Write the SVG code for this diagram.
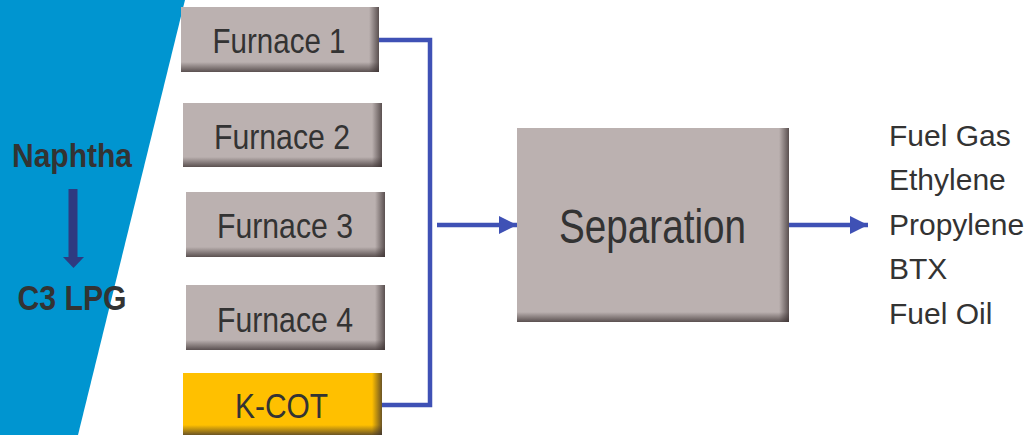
<svg xmlns="http://www.w3.org/2000/svg" width="1029" height="435" viewBox="0 0 1029 435">
<style>
.box{fill:#bbb1b0}
.kcot{fill:#ffc000}
.lbl{font-family:"Liberation Sans",Arial,sans-serif;fill:#333333;text-anchor:middle}
.feed{font-family:"Liberation Sans",Arial,sans-serif;font-weight:bold;fill:#333333;text-anchor:middle}
.out{font-family:"Liberation Sans",Arial,sans-serif;fill:#333333;font-size:30px}
.conn{fill:none;stroke:#3f51b5;stroke-width:4.5}
</style>
<defs>
<linearGradient id="shR" x1="0" y1="0" x2="1" y2="0">
<stop offset="0" stop-color="#3a3030" stop-opacity="0"/>
<stop offset="1" stop-color="#3a3030" stop-opacity="0.75"/>
</linearGradient>
<linearGradient id="shB" x1="0" y1="0" x2="0" y2="1">
<stop offset="0" stop-color="#3a3030" stop-opacity="0"/>
<stop offset="1" stop-color="#3a3030" stop-opacity="0.75"/>
</linearGradient>
<marker id="ah" markerUnits="userSpaceOnUse" markerWidth="18" markerHeight="18" viewBox="0 0 18 18" refX="18" refY="9" orient="auto">
<path d="M0,0 L18,9 L0,18 Z" fill="#3f51b5"/>
</marker>
</defs>
<polygon points="0,0 185,0 78,435 0,435" fill="#0095d0"/>
<g id="feed">
<text class="feed" x="72" y="167" font-size="34" textLength="120" lengthAdjust="spacingAndGlyphs">Naphtha</text>
<rect x="68.5" y="189" width="9" height="69" fill="#2e3a80"/>
<polygon points="63,257 84,257 73.5,268" fill="#2e3a80"/>
<text class="feed" x="72" y="310" font-size="35" textLength="109" lengthAdjust="spacingAndGlyphs">C3 LPG</text>
</g>
<g id="furnace1">
<rect class="box" x="181" y="7" width="198" height="65"/>
<rect x="369" y="7" width="10" height="65" fill="url(#shR)"/>
<rect x="181" y="62" width="198" height="10" fill="url(#shB)"/>
<text class="lbl" x="279" y="53" font-size="35" textLength="133" lengthAdjust="spacingAndGlyphs">Furnace 1</text>
</g>
<g id="furnace2">
<rect class="box" x="183" y="103" width="199" height="64"/>
<rect x="372" y="103" width="10" height="64" fill="url(#shR)"/>
<rect x="183" y="157" width="199" height="10" fill="url(#shB)"/>
<text class="lbl" x="282" y="149" font-size="35" textLength="136" lengthAdjust="spacingAndGlyphs">Furnace 2</text>
</g>
<g id="furnace3">
<rect class="box" x="186" y="192" width="199" height="65"/>
<rect x="375" y="192" width="10" height="65" fill="url(#shR)"/>
<rect x="186" y="247" width="199" height="10" fill="url(#shB)"/>
<text class="lbl" x="285" y="238" font-size="35" textLength="136" lengthAdjust="spacingAndGlyphs">Furnace 3</text>
</g>
<g id="furnace4">
<rect class="box" x="186" y="285" width="199" height="65"/>
<rect x="375" y="285" width="10" height="65" fill="url(#shR)"/>
<rect x="186" y="340" width="199" height="10" fill="url(#shB)"/>
<text class="lbl" x="285" y="332" font-size="35" textLength="136" lengthAdjust="spacingAndGlyphs">Furnace 4</text>
</g>
<g id="kcot">
<rect class="kcot" x="183" y="373" width="199" height="62"/>
<rect x="372" y="373" width="10" height="62" fill="url(#shR)"/>
<rect x="183" y="425" width="199" height="10" fill="url(#shB)"/>
<text class="lbl" x="281.5" y="418" font-size="35" textLength="93" lengthAdjust="spacingAndGlyphs">K-COT</text>
</g>
<g id="separation">
<rect class="box" x="517" y="128" width="272" height="194"/>
<rect x="779" y="128" width="10" height="194" fill="url(#shR)"/>
<rect x="517" y="312" width="272" height="10" fill="url(#shB)"/>
<text class="lbl" x="652.5" y="243" font-size="49" textLength="187" lengthAdjust="spacingAndGlyphs">Separation</text>
</g>
<g id="products" class="out">
<text x="889" y="146">Fuel Gas</text>
<text x="889" y="190">Ethylene</text>
<text x="889" y="235">Propylene</text>
<text x="889" y="279">BTX</text>
<text x="889" y="324">Fuel Oil</text>
</g>
<g id="connectors">
<polyline class="conn" points="379,40 430,40 430,405 382,405"/>
<line class="conn" x1="437" y1="225" x2="517" y2="225" marker-end="url(#ah)"/>
<line class="conn" x1="789" y1="225" x2="868" y2="225" marker-end="url(#ah)"/>
</g>
</svg>
